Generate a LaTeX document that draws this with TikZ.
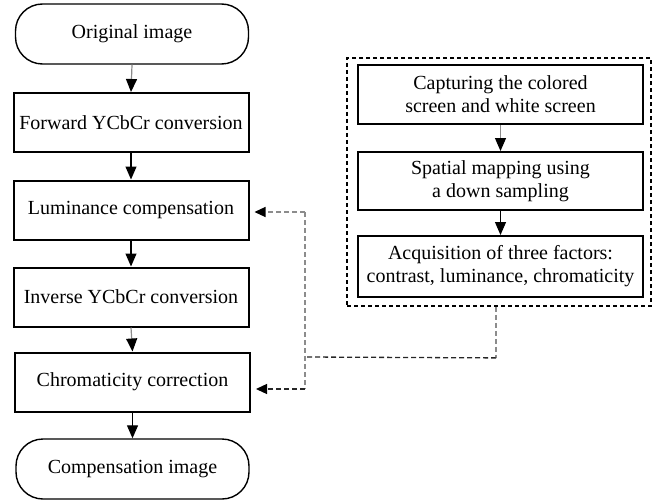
\documentclass[tikz,border=0pt]{standalone}
\usepackage{fontspec}
\setmainfont{Liberation Serif}
\newfontfamily\tnr{Liberation Serif}
\usetikzlibrary{arrows.meta,fit,calc}
\begin{document}
\begin{tikzpicture}[x=1pt,y=-1pt,
  every node/.style={font=\tnr\fontsize{20}{23}\selectfont, align=center, inner sep=0pt},
  procbox/.style={draw=black, line width=2pt, minimum width=235pt, minimum height=59pt},
  sidebox/.style={draw=black, line width=2pt, minimum width=285pt, minimum height=59pt},
  termbox/.style={draw=black, line width=1.4pt, rounded corners=27pt, minimum width=233pt, minimum height=60pt},
  flow/.style={line width=1.2pt, -{Triangle[width=11pt,length=13pt,color=black]}},
  flowgray/.style={flow, draw=black!45},
  grpbox/.style={draw=black, line width=1.8pt, dash pattern=on 4pt off 3pt, inner sep=0pt},
  feed/.style={draw=black!45, line width=1.1pt, dash pattern=on 5pt off 3pt},
  feeddark/.style={draw=black!85, line width=1.3pt, dash pattern=on 5pt off 3pt},
  feedtip/.style={-{Triangle[width=10pt,length=11pt,color=black]}, shorten >=5pt}
]
\useasboundingbox (0,0) rectangle (655,500);

% left column
\node[termbox] (orig) at (132,34) {Original image};
\node[procbox] (fwd) at (131,122.5) {Forward YCbCr conversion};
\node[procbox] (lum) at (131,210) {Luminance compensation};
\node[procbox] (inv) at (131,297) {Inverse YCbCr conversion};
\node[procbox] (chr) at (132.5,382) {Chromaticity correction};
\node[termbox] (comp) at (132.5,469) {Compensation image};

\draw[flowgray] (orig.south) -- (fwd.north);
\draw[flow] (fwd.south) -- (lum.north);
\draw[flow] (lum.south) -- (inv.north);
\draw[flowgray] (inv.south) -- (chr.north);
\draw[flow] (chr.south) -- (comp.north);

% right column
\node[sidebox] (cap) at (500.5,94.5) {Capturing the colored\\screen and white screen};
\node[sidebox, minimum height=58pt] (spa) at (500.5,181) {Spatial mapping using\\a down sampling};
\node[sidebox, minimum height=61pt] (acq) at (500.5,266.5) {Acquisition of three factors:\\contrast, luminance, chromaticity};

\draw[flowgray] (cap.south) -- (spa.north);
\draw[flow] (spa.south) -- (acq.north);

\node[grpbox, fit={(347,58) (651,306)}] (grp) {};

% feedback connectors
\coordinate (j1) at ($(grp.south)+(-3,51)$);
\coordinate (j2) at (305,357);
\coordinate (j3) at (305,212);
\coordinate (j4) at (305,389);
\draw[feed] ($(grp.south)+(-3,0)$) -- (j1);
\draw[feeddark] (j1) -- (j2);
\draw[feed] (j3) -- (j4);
\draw[feed, feedtip] (j3) -- (j3 -| lum.east);
\draw[feeddark, feedtip] (j4) -- (j4 -| chr.east);
\end{tikzpicture}
\end{document}
